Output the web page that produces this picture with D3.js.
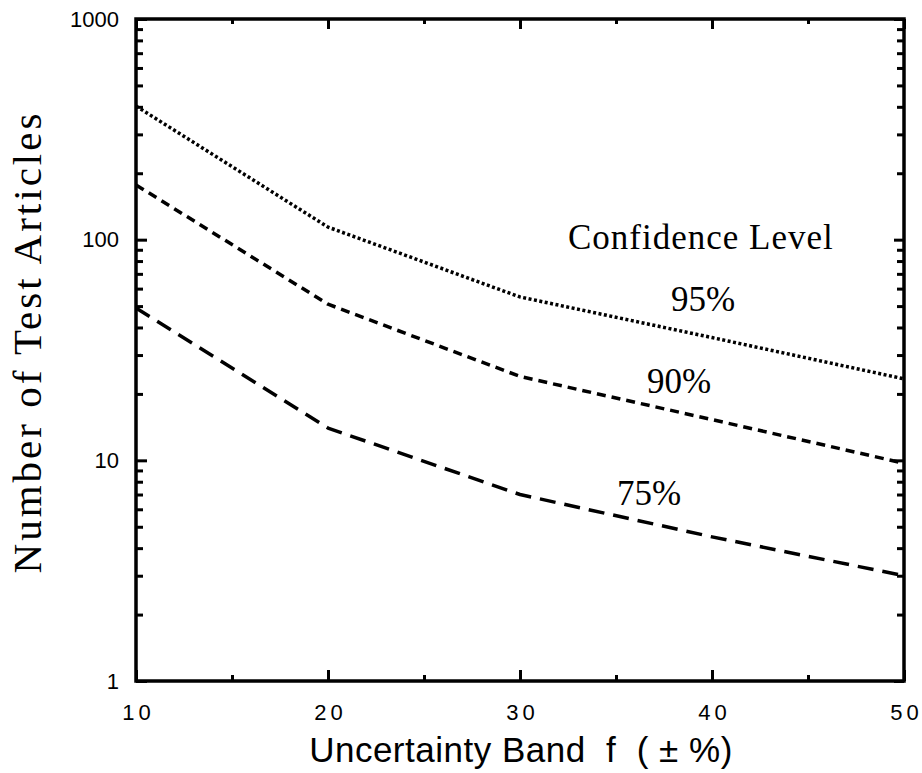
<!DOCTYPE html>
<html>
<head>
<meta charset="utf-8">
<script src="https://cdn.jsdelivr.net/npm/d3@7"></script>
<style>
  body { margin: 0; background: #fff; }
  svg { display: block; }
  .tick line { stroke: #000; stroke-width: 3; }
  .frame { fill: none; stroke: #000; stroke-width: 3.5; }
</style>
</head>
<body>
<svg id="chart" width="922" height="773"></svg>
<script>
// uncertainty band f (+/- %)
const bands = [10, 20, 30, 40, 50];
// number of test articles for each confidence level
const conf95 = [403, 114, 55, 36, 23.4];
const conf90 = [177, 51, 24, 15.3, 9.7];
const conf75 = [49, 14, 7, 4.5, 3.0];
const levels = ["95%", "90%", "75%"];
const xTicks = [10, 20, 30, 40, 50];
const xMinor = [15, 25, 35, 45];
const yTicks = [1, 10, 100, 1000];

const svg = d3.select("#chart");
const plotL = 136, plotR = 904, plotT = 19, plotB = 681;

const x = d3.scaleLinear().domain([10, 50]).range([plotL, plotR]);
const y = d3.scaleLog().domain([1, 1000]).range([plotB, plotT]);

const yMinor = [];
for (let d = 1; d < 1000; d *= 10) {
    for (let k = 2; k <= 9; k++) yMinor.push(d * k);
}

// ticks all point into the frame
function addAxis(axis, tx, ty, labels) {
    const g = svg.append("g").attr("transform", `translate(${tx},${ty})`).call(axis);
    g.select(".domain").remove();
    if (!labels) g.selectAll("text").remove();
    return g;
}

const sans = "'Liberation Sans', Arial, sans-serif";
const serif = "'Liberation Serif', 'Times New Roman', serif";

const yl = addAxis(d3.axisLeft(y).tickValues(yTicks).tickSize(-11).tickPadding(17).tickFormat(d3.format("d")), plotL, 0, true);
yl.selectAll("text")
    .style("font-family", sans)
    .style("font-size", "22px")
    .attr("fill", "#000");
addAxis(d3.axisLeft(y).tickValues(yMinor).tickSize(-7), plotL, 0, false);
addAxis(d3.axisRight(y).tickValues(yTicks).tickSize(-10), plotR, 0, false);
addAxis(d3.axisRight(y).tickValues(yMinor).tickSize(-7), plotR, 0, false);

const xb = addAxis(d3.axisBottom(x).tickValues(xTicks).tickSize(-11).tickPadding(23), 0, plotB, true);
xb.selectAll("text")
    .style("font-family", sans)
    .style("font-size", "22px")
    .style("letter-spacing", "4px")
    .attr("dx", 2)
    .attr("fill", "#000");
addAxis(d3.axisBottom(x).tickValues(xMinor).tickSize(-6), 0, plotB, false);
addAxis(d3.axisTop(x).tickValues(xTicks).tickSize(-10), 0, plotT, false);
addAxis(d3.axisTop(x).tickValues(xMinor).tickSize(-5), 0, plotT, false);

svg.append("rect").attr("class", "frame")
    .attr("x", plotL).attr("y", plotT)
    .attr("width", plotR - plotL).attr("height", plotB - plotT);

const line = d3.line()
    .x((d, i) => x(bands[i]))
    .y(d => y(d));

const series = [
    { values: conf95, dash: "3,2.5", w: 3.5 },
    { values: conf90, dash: "9,6", w: 3.5 },
    { values: conf75, dash: "16,9", w: 3.5 }
];

svg.selectAll("path.series")
    .data(series)
    .enter().append("path")
    .attr("class", "series")
    .attr("d", d => line(d.values))
    .attr("fill", "none")
    .attr("stroke", "#000")
    .attr("stroke-width", d => d.w)
    .attr("stroke-linejoin", "round")
    .attr("stroke-dasharray", d => d.dash);

svg.append("text")
    .attr("x", 568).attr("y", 249)
    .attr("font-family", serif).attr("font-size", 35)
    .attr("letter-spacing", 1)
    .text("Confidence Level");

const labelPos = [[671, 311], [647, 393], [617, 505]];
svg.selectAll("text.level")
    .data(levels)
    .enter().append("text")
    .attr("class", "level")
    .attr("x", (d, i) => labelPos[i][0])
    .attr("y", (d, i) => labelPos[i][1])
    .attr("font-family", serif).attr("font-size", 35)
    .text(d => d);

svg.append("text")
    .attr("transform", "translate(41,342) rotate(-90)")
    .attr("text-anchor", "middle")
    .attr("font-family", serif).attr("font-size", 41)
    .attr("letter-spacing", 3)
    .text("Number of Test Articles");

svg.append("text")
    .attr("x", 521).attr("y", 762)
    .attr("text-anchor", "middle")
    .attr("font-family", sans)
    .attr("font-size", 35)
    .attr("letter-spacing", 0.5)
    .style("white-space", "pre")
    .text("Uncertainty Band  f  ( ± %)");
</script>
</body>
</html>
